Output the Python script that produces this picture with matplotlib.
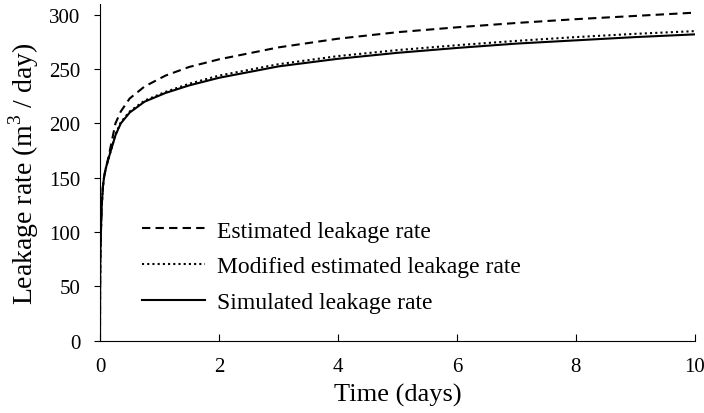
import numpy as np
from matplotlib import pyplot as plt

plt.rcParams['font.family'] = ['Liberation Serif', 'DejaVu Serif']
plt.rcParams['mathtext.fontset'] = 'custom'
plt.rcParams['mathtext.rm'] = 'Liberation Serif'

# time (days) and leakage rate (m3/day) for the three curves
time_days = [0, 0.002, 0.005, 0.01, 0.02, 0.03, 0.05, 0.07, 0.1, 0.14, 0.2,
             0.26, 0.35, 0.5, 0.75, 1.1, 1.5, 2, 3, 4, 5, 6, 7, 8, 9, 10]
estimated = [0, 45, 70, 88, 108, 125, 142, 151, 159, 168, 184,
             200, 211, 223, 234, 244, 252, 259, 270, 278, 284, 288.5, 292.5, 296, 299, 302]
modified = [0, 45, 70, 88, 108, 125, 142, 151, 159, 167, 178,
            190, 201, 211, 221, 229, 236.5, 244, 254.5, 262, 267.5, 272, 276, 279.5, 282.5, 285]
simulated = [0, 45, 70, 88, 108, 125, 142, 151, 159, 167, 178,
             189, 200, 210, 220, 228, 235, 242, 252.5, 259.5, 265, 269.5, 273.5, 276.5, 279.5, 282]

x_ticks = [0, 2, 4, 6, 8, 10]
y_ticks = [0, 50, 100, 150, 200, 250, 300]

fig = plt.figure(figsize=(7.04, 4.14), dpi=100)
ax = fig.add_axes([0.142, 0.175, 0.845, 0.813])

ax.plot(time_days, estimated, color='black', lw=1.5, linestyle=(0, (4, 2.5)),
        label='Estimated leakage rate')
ax.plot(time_days, modified, color='black', lw=1.5, linestyle=(0, (1, 1.5)),
        label='Modified estimated leakage rate')
ax.plot(time_days, simulated, color='black', lw=1.5, linestyle='-',
        label='Simulated leakage rate')

ax.set_xlim(0, 10)
ax.set_ylim(0, 310)
ax.set_xticks(x_ticks)
ax.set_yticks(y_ticks)
ax.tick_params(axis='x', direction='in', length=5, width=0.8, labelsize=15, pad=12)
ax.tick_params(axis='y', direction='out', length=4, width=0.8, labelsize=15, pad=10)
for side in ['top', 'right']:
    ax.spines[side].set_visible(False)
for side in ['left', 'bottom']:
    ax.spines[side].set_linewidth(0.8)

ax.set_xlabel('Time (days)', fontsize=19, labelpad=5)
ax.set_ylabel('Leakage rate (m$^3$ / day)', fontsize=20, labelpad=6)

ax.legend(loc='center left', bbox_to_anchor=(0.07, 0.22), frameon=False,
          fontsize=17, handlelength=2.7, handletextpad=0.5, labelspacing=0.6,
          borderpad=0, borderaxespad=0)

fig.savefig('out.png', dpi=100)
